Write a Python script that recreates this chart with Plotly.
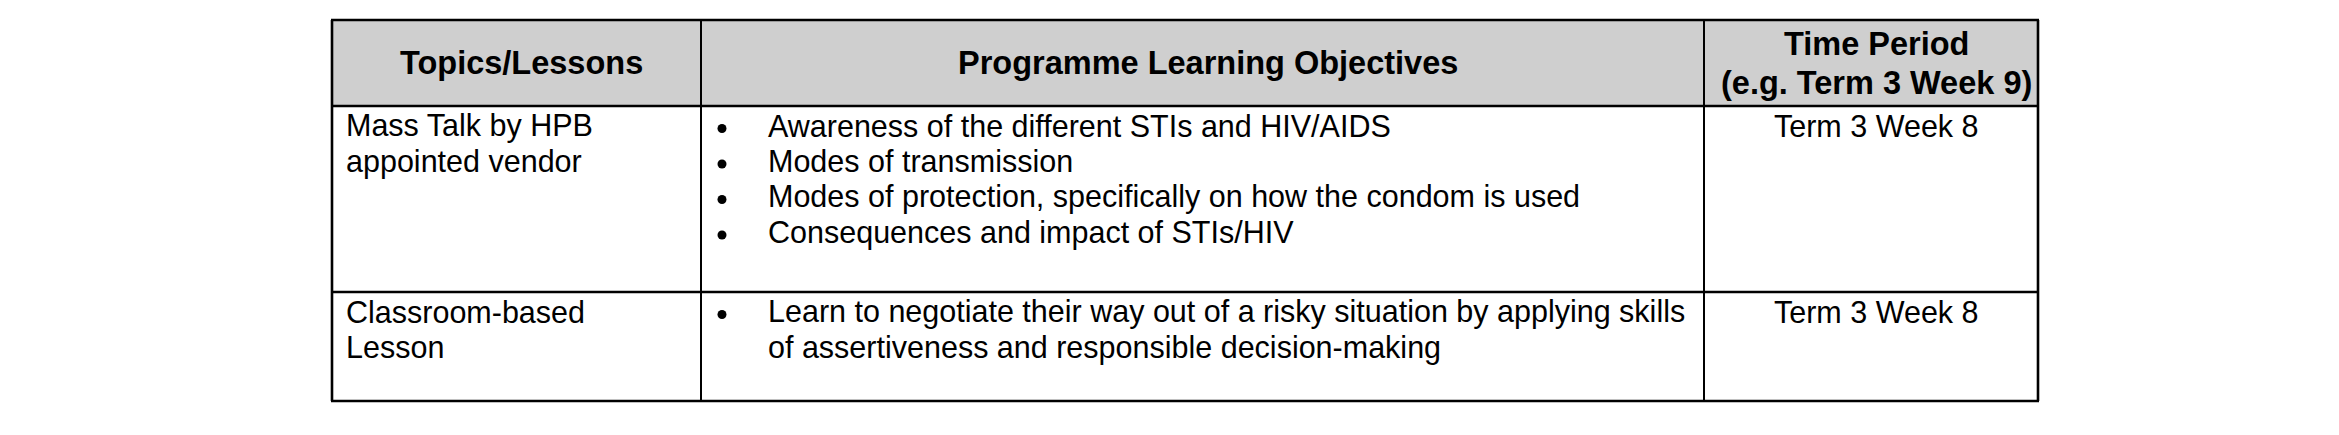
import plotly.graph_objects as go

# --- table content ---
header_labels = ["Topics/Lessons", "Programme Learning Objectives", "Time Period\n(e.g. Term 3 Week 9)"]
topics = ["Mass Talk by HPB\nappointed vendor", "Classroom-based\nLesson"]
objectives = [
    [
        "Awareness of the different STIs and HIV/AIDS",
        "Modes of transmission",
        "Modes of protection, specifically on how the condom is used",
        "Consequences and impact of STIs/HIV",
    ],
    [
        "Learn to negotiate their way out of a risky situation by applying skills\n"
        "of assertiveness and responsible decision-making",
    ],
]
time_periods = ["Term 3 Week 8", "Term 3 Week 8"]

# --- layout (pixels of the 2339x435 page) ---
W, H = 2339, 435
col_edges = [332, 701, 1704, 2038]
row_edges = [20, 106, 292, 401]
FONT = "Liberation Sans, Arial, sans-serif"
BODY_SIZE = 30.5
HEAD_SIZE = 32.5
HEAD_STEP = 39      # line step inside header
BODY_STEP = 35.5    # line step in body cells
FIRST_BASE = 30.5   # row top -> first baseline
PAD_LEFT = 13
BULLET_DX = 21
TEXT_DX = 66
NUDGE = 5           # centred text sits a little right of the column middle
HEADER_FILL = "#cfcfcf"


def mid(baseline, size):
    # annotation boxes are centred on ascent/descent, not on the baseline
    return baseline - 0.3465 * size


fig = go.Figure()
shapes = []
annotations = []

# header background
shapes.append(dict(type="rect", xref="x", yref="y", x0=col_edges[0], x1=col_edges[-1],
                   y0=row_edges[0], y1=row_edges[1], fillcolor=HEADER_FILL, line_width=0, layer="below"))

# horizontal rules
for y in row_edges:
    shapes.append(dict(type="line", xref="x", yref="y", x0=col_edges[0] - 1, x1=col_edges[-1] + 1,
                       y0=y, y1=y, line=dict(color="black", width=2.6)))
# vertical rules
for i, x in enumerate(col_edges):
    w = 2.6 if i in (0, len(col_edges) - 1) else 2
    shapes.append(dict(type="line", xref="x", yref="y", x0=x, x1=x,
                       y0=row_edges[0], y1=row_edges[-1], line=dict(color="black", width=w)))


def add_text(x, y, text, size, bold=False, anchor="left"):
    annotations.append(dict(
        xref="x", yref="y", x=x, y=y, text=f"<b>{text}</b>" if bold else text,
        showarrow=False, xanchor=anchor, yanchor="middle", borderpad=0,
        font=dict(family=FONT, size=size, color="black"),
    ))


# header cells
head_mid = (row_edges[0] + row_edges[1]) / 2
for c, label in enumerate(header_labels):
    cx = (col_edges[c] + col_edges[c + 1]) / 2 + NUDGE
    lines = label.split("\n")
    top = head_mid - HEAD_STEP * (len(lines) - 1) / 2
    for k, line in enumerate(lines):
        add_text(cx, top + k * HEAD_STEP, line, HEAD_SIZE, bold=True, anchor="center")

# body rows
bullet_x, bullet_y = [], []
for r in range(len(topics)):
    base0 = row_edges[r + 1] + FIRST_BASE

    for k, line in enumerate(topics[r].split("\n")):
        add_text(col_edges[0] + PAD_LEFT, mid(base0 + k * BODY_STEP, BODY_SIZE), line, BODY_SIZE)

    n = 0
    for item in objectives[r]:
        bullet_x.append(col_edges[1] + BULLET_DX)
        bullet_y.append(base0 + n * BODY_STEP - 8)
        for line in item.split("\n"):
            add_text(col_edges[1] + TEXT_DX, mid(base0 + n * BODY_STEP, BODY_SIZE), line, BODY_SIZE)
            n += 1

    cx = (col_edges[2] + col_edges[3]) / 2 + NUDGE
    add_text(cx, mid(base0, BODY_SIZE), time_periods[r], BODY_SIZE, anchor="center")

fig.add_trace(go.Scatter(x=bullet_x, y=bullet_y, mode="markers",
                         marker=dict(symbol="circle", size=9, color="black"),
                         hoverinfo="skip", showlegend=False))

fig.update_layout(
    width=W, height=H,
    margin=dict(l=0, r=0, t=0, b=0),
    paper_bgcolor="white", plot_bgcolor="white",
    shapes=shapes, annotations=annotations,
    xaxis=dict(range=[0, W], visible=False, fixedrange=True),
    yaxis=dict(range=[H, 0], visible=False, fixedrange=True),
    showlegend=False,
)

fig.write_html("out.html", config={"displayModeBar": False},
               post_script="document.body.style.margin='0';")
